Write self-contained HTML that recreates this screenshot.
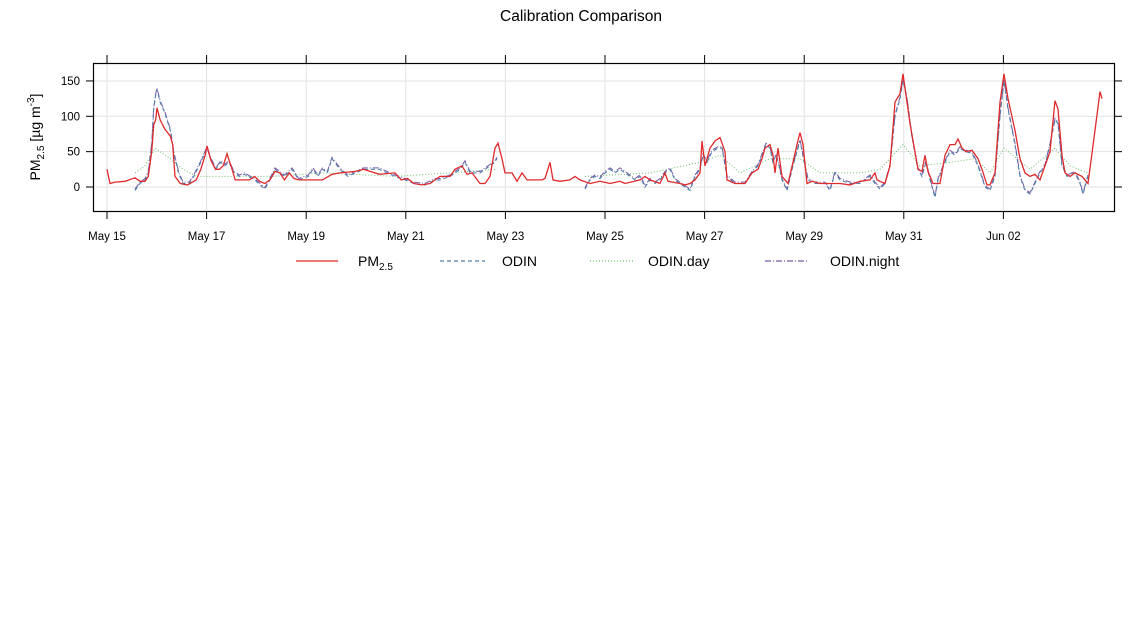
<!DOCTYPE html>
<html><head><meta charset="utf-8"><style>
body{margin:0;background:#fff;width:1142px;height:630px;overflow:hidden}
svg{font-family:"Liberation Sans",sans-serif}
</style></head><body>
<svg id="s" width="1142" height="630" viewBox="0 0 1142 630" xmlns="http://www.w3.org/2000/svg">
<text x="581" y="21" font-size="15.5" text-anchor="middle" fill="#000">Calibration Comparison</text>
<g id="grid" stroke="#e2e2e2" stroke-width="1"></g>
<g id="ser" fill="none"></g>
<rect x="93.5" y="63.5" width="1021" height="148" fill="none" stroke="#000" stroke-width="1.2"/>
<g id="ax" stroke="#000" stroke-width="1"></g>
<g font-size="11.5" fill="#000" id="lab"></g>
<text transform="translate(40,137) rotate(-90)" font-size="14" text-anchor="middle">PM<tspan font-size="10" dy="4">2.5</tspan><tspan dy="-4"> [µg m</tspan><tspan font-size="10" dy="-6">-3</tspan><tspan dy="6">]</tspan></text>
<g font-size="14">
<line x1="296" y1="261" x2="338" y2="261" stroke="#e0292b" stroke-width="1.3"/>
<text x="358" y="266">PM<tspan font-size="10" dy="4">2.5</tspan></text>
<line x1="440" y1="261" x2="485" y2="261" stroke="#4f7fa8" stroke-width="1.2" stroke-dasharray="4,3"/>
<text x="502" y="266">ODIN</text>
<line x1="590" y1="261" x2="633" y2="261" stroke="#6cbf6c" stroke-width="1.2" stroke-dasharray="1,2"/>
<text x="648" y="266">ODIN.day</text>
<line x1="765" y1="261" x2="808" y2="261" stroke="#7a5aa8" stroke-width="1.2" stroke-dasharray="6,2,1,2"/>
<text x="830" y="266">ODIN.night</text>
</g>
</svg>
<script>
const NS="http://www.w3.org/2000/svg";
function Y(v){return 187-0.707*v}
const MAP=[[0,0],[140,140],[150,145],[168,157],[191,175],[227,207],[253,227],[300,275],[360,332],[400,395],[420,420],[2000,2000]];
function M(x){for(let i=0;i<MAP.length-1;i++){const[a,b]=MAP[i],[c,d]=MAP[i+1];if(x>=a&&x<=c)return b+(x-a)*(d-b)/(c-a);}return x}
function el(p,t,a,txt){const e=document.createElementNS(NS,t);for(const k in a)e.setAttribute(k,a[k]);if(txt)e.textContent=txt;document.getElementById(p).appendChild(e);return e}
const dates=["May 15","May 17","May 19","May 21","May 23","May 25","May 27","May 29","May 31","Jun 02"];
dates.forEach((d,i)=>{const x=107+99.6*i;
el("grid","line",{x1:x,y1:64,x2:x,y2:211});
el("ax","line",{x1:x,y1:211,x2:x,y2:219});el("ax","line",{x1:x,y1:63,x2:x,y2:55});
el("lab","text",{x:x,y:240,"text-anchor":"middle"},d);});
[0,50,100,150].forEach(v=>{const y=Y(v);
el("grid","line",{x1:94,y1:y,x2:1114,y2:y});
el("ax","line",{x1:93,y1:y,x2:86,y2:y});el("ax","line",{x1:1114,y1:y,x2:1122,y2:y});
el("lab","text",{x:80,y:y+4,"text-anchor":"end"},String(v));});
function P(a){let s=[];for(let i=0;i<a.length;i+=2)s.push(M(a[i]).toFixed(1)+","+Y(a[i+1]).toFixed(1));return s.join(" ")}
const red=[107,25,110,5,115,7,125,8,135,13,140,8,150,8,155,15,160,50,163,88,166,95,168,112,172,95,178,82,185,72,188,60,191,15,197,5,205,3,215,10,220,25,225,45,227,58,232,38,238,25,243,25,248,30,253,47,258,25,261,10,268,10,275,10,280,15,285,8,290,5,295,10,300,22,305,20,310,10,315,20,320,12,325,10,340,10,350,10,360,18,365,20,375,22,380,25,390,18,400,20,405,10,410,12,415,5,422,3,430,5,440,15,450,15,455,25,462,30,467,18,472,20,480,5,485,5,490,15,495,55,498,62,502,40,505,20,512,20,517,8,522,20,527,10,535,10,542,10,545,12,550,35,553,10,560,8,570,10,575,15,580,10,590,5,600,8,610,5,620,8,625,5,640,10,645,15,650,10,660,5,665,20,668,8,680,5,685,3,690,5,695,10,700,20,702,65,705,30,710,55,715,65,720,70,725,50,727,10,735,5,745,5,752,20,758,25,762,40,765,55,770,60,773,45,775,20,778,55,782,15,788,5,793,35,797,60,800,77,803,60,807,5,812,8,820,5,830,5,840,5,850,3,860,8,870,10,875,20,877,10,880,8,885,5,890,30,895,120,900,132,903,160,906,130,910,90,918,25,922,22,925,45,928,22,933,5,940,5,945,45,950,60,955,60,958,68,962,55,966,50,972,52,978,40,982,25,987,3,990,3,995,20,1000,120,1004,160,1008,125,1015,80,1020,40,1025,20,1030,15,1035,18,1040,10,1045,30,1050,50,1055,122,1058,110,1062,45,1065,20,1070,15,1075,20,1082,15,1088,5,1095,80,1100,135,1102,125];
const blue1=[135,-5,140,5,150,10,155,20,160,60,163,110,166,130,168,138,172,120,178,105,185,80,190,45,195,20,200,5,207,5,212,15,220,35,227,55,232,40,238,25,245,35,250,30,255,35,260,20,265,15,270,18,280,10,290,-3,295,10,300,25,305,20,310,15,318,25,325,10,335,15,340,25,345,15,350,25,355,20,360,40,365,25,370,15,380,25,390,25,395,20,400,15,408,10,415,5,425,3,435,10,440,10,450,15,455,20,460,25,465,35,470,20,480,20,485,25,490,30,495,35,497,40];
const blue2=[585,-3,590,10,595,15,600,12,605,20,610,25,615,20,620,25,625,20,630,15,635,10,640,15,645,0,650,10,655,5,660,10,665,20,670,25,675,10,680,5,685,0,690,-5,695,15,700,25,703,45,707,35,712,50,718,55,722,55,727,15,735,5,745,5,752,20,758,30,762,45,766,60,770,55,773,35,776,45,779,30,782,10,787,-5,793,30,797,50,800,65,805,30,808,10,815,5,825,5,830,-5,835,20,840,10,850,5,860,5,870,15,875,5,880,-3,885,5,890,30,895,100,900,125,903,150,907,125,912,70,918,25,922,15,926,35,930,10,935,-15,938,10,945,35,950,50,955,45,960,55,965,50,972,48,978,30,985,0,990,-5,995,15,1000,100,1004,150,1008,110,1015,60,1020,15,1025,-5,1030,-10,1035,5,1040,20,1045,30,1050,60,1055,95,1058,90,1062,30,1067,15,1075,20,1080,5,1083,-10,1088,15];
const g1=[135,20,150,30,165,55,185,40,200,25,215,15,240,15,260,15,300,15,350,20,400,15,450,20,497,25];
const g2=[585,15,650,20,700,35,720,45,740,20,770,40,800,40,820,20,860,20,880,25,903,60,920,30,950,35,975,40,990,20,1004,55,1030,25,1055,55,1070,30,1088,20];
[g1,g2].forEach(a=>el("ser","polyline",{points:P(a),stroke:"#6cbf6c","stroke-width":1,"stroke-dasharray":"1,2"}));
[blue1,blue2].forEach(a=>{
el("ser","polyline",{points:P(a.map((v,i)=>i%2?v+2:v)),stroke:"#7a5aa8","stroke-width":1,"stroke-dasharray":"6,2,1,2"});
el("ser","polyline",{points:P(a),stroke:"#4f7fa8","stroke-width":1.1,"stroke-dasharray":"4,3"});});
el("ser","polyline",{points:P(red),stroke:"#e0292b","stroke-width":1.3});
</script>
</body></html>
